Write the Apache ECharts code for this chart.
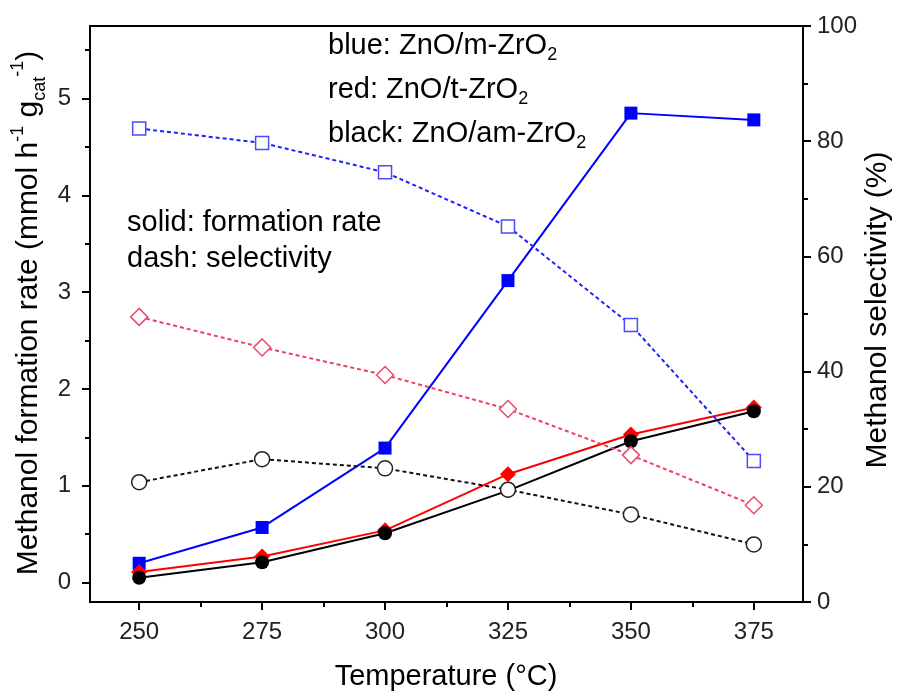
<!DOCTYPE html>
<html>
<head>
<meta charset="utf-8">
<script src="https://cdn.jsdelivr.net/npm/echarts@6/dist/echarts.min.js"></script>
<style>
  html, body { margin: 0; padding: 0; background: #fff; }
  #chart { width: 897px; height: 693px; }
</style>
</head>
<body>
<div id="chart"></div>
<script>
// Reaction temperature (°C)
const temperatures = [250, 275, 300, 325, 350, 375];

// Methanol formation rate (mmol h-1 gcat-1)
const rateMZrO2  = [0.20, 0.57, 1.39, 3.12, 4.85, 4.78];
const rateTZrO2  = [0.11, 0.27, 0.54, 1.12, 1.53, 1.81];
const rateAmZrO2 = [0.05, 0.21, 0.51, 0.95, 1.46, 1.77];

// Methanol selectivity (%)
const selMZrO2  = [82.2, 79.7, 74.6, 65.2, 48.1, 24.5];
const selTZrO2  = [49.5, 44.2, 39.4, 33.5, 25.5, 16.8];
const selAmZrO2 = [20.8, 24.8, 23.2, 19.5, 15.2, 10.0];

// Tick positions
const tempTicks = [250, 275, 300, 325, 350, 375];
const tempMinorTicks = [262.5, 287.5, 312.5, 337.5, 362.5];
const rateTicks = [0, 1, 2, 3, 4, 5];
const rateMinorTicks = [0.5, 1.5, 2.5, 3.5, 4.5, 5.5];

const FONT = '"Liberation Sans", Arial, Helvetica, sans-serif';
const pairs = (xs, ys) => xs.map((x, i) => [x, ys[i]]);

const chart = echarts.init(document.getElementById('chart'), null, { renderer: 'canvas' });

const axisLineStyle = { color: '#000', width: 2 };
const tickLabel = { color: '#222', fontSize: 24, fontFamily: FONT };

function solidSeries(name, data, color, symbol, size) {
  return {
    name, type: 'line', xAxisIndex: 0, yAxisIndex: 0,
    data: pairs(temperatures, data),
    symbol, symbolSize: size,
    lineStyle: { color, width: 2 },
    itemStyle: { color, borderWidth: 0 },
    z: 3
  };
}
function dashSeries(name, data, lineColor, markColor, symbol, size) {
  return {
    name, type: 'line', xAxisIndex: 0, yAxisIndex: 1,
    data: pairs(temperatures, data),
    symbol, symbolSize: size,
    lineStyle: { color: lineColor, width: 2, type: [4, 3] },
    itemStyle: { color: '#fff', borderColor: markColor, borderWidth: 1.5 },
    z: 4
  };
}

const option = {
  animation: false,
  backgroundColor: '#fff',
  textStyle: { fontFamily: FONT },
  grid: {
    left: 90, right: 94, top: 26, bottom: 91,
    show: true, borderColor: '#000', borderWidth: 2, backgroundColor: 'transparent'
  },
  xAxis: [
    {
      type: 'value', position: 'bottom', min: 240, max: 385,
      axisLine: { show: true, onZero: false, lineStyle: axisLineStyle },
      axisTick: { show: true, inside: false, length: 8, lineStyle: axisLineStyle, customValues: tempTicks },
      axisLabel: Object.assign({ margin: 18, customValues: tempTicks }, tickLabel),
      splitLine: { show: false }
    },
    {
      type: 'value', position: 'bottom', offset: 0, min: 240, max: 385,
      axisLine: { show: false, onZero: false },
      axisTick: { show: true, inside: false, length: 5, lineStyle: axisLineStyle, customValues: tempMinorTicks },
      axisLabel: { show: false },
      splitLine: { show: false }
    }
  ],
  yAxis: [
    {
      type: 'value', position: 'left', min: -0.2, max: 5.75,
      axisLine: { show: true, onZero: false, lineStyle: axisLineStyle },
      axisTick: { show: true, inside: false, length: 8, lineStyle: axisLineStyle, customValues: rateTicks },
      axisLabel: Object.assign({ margin: 19, customValues: rateTicks }, tickLabel),
      splitLine: { show: false }
    },
    {
      type: 'value', position: 'right', min: 0, max: 100, interval: 20,
      axisLine: { show: true, onZero: false, lineStyle: axisLineStyle },
      axisTick: { show: true, inside: false, length: 8, lineStyle: axisLineStyle },
      minorTick: { show: true, splitNumber: 2, length: 5, lineStyle: axisLineStyle },
      axisLabel: Object.assign({ margin: 14 }, tickLabel),
      splitLine: { show: false }
    },
    {
      type: 'value', position: 'left', offset: 0, min: -0.2, max: 5.75,
      axisLine: { show: false, onZero: false },
      axisTick: { show: true, inside: false, length: 5, lineStyle: axisLineStyle, customValues: rateMinorTicks },
      axisLabel: { show: false },
      splitLine: { show: false }
    }
  ],
  series: [
    solidSeries('ZnO/m-ZrO2 rate', rateMZrO2, '#0000ff', 'rect', 13),
    solidSeries('ZnO/t-ZrO2 rate', rateTZrO2, '#ff0000', 'diamond', 16),
    solidSeries('ZnO/am-ZrO2 rate', rateAmZrO2, '#000000', 'circle', 14),
    dashSeries('ZnO/m-ZrO2 selectivity', selMZrO2, '#2020ff', '#4a4aff', 'rect', 13),
    dashSeries('ZnO/t-ZrO2 selectivity', selTZrO2, '#f0405e', '#e84c68', 'diamond', 17),
    dashSeries('ZnO/am-ZrO2 selectivity', selAmZrO2, '#111111', '#222222', 'circle', 15)
  ],
  graphic: []
};

// Rich text styles for annotations and axis titles
const noteSize = 29;
const noteRich = {
  n: { fontSize: noteSize, fontFamily: FONT, color: '#111', lineHeight: 36 },
  s: { fontSize: 18, fontFamily: FONT, color: '#111', lineHeight: 18, verticalAlign: 'bottom' }
};
function titleRich(size) {
  return {
    n: { fontSize: size, fontFamily: FONT, color: '#111', lineHeight: size + 10 },
    sup: { fontSize: 18, fontFamily: FONT, color: '#111', lineHeight: 20, verticalAlign: 'top' },
    sub: { fontSize: 18, fontFamily: FONT, color: '#111', lineHeight: 18, verticalAlign: 'bottom' }
  };
}

function note(text, x, y) {
  return {
    type: 'text', x, y, z: 10,
    style: { text, rich: noteRich, align: 'left', verticalAlign: 'middle', textAlign: 'left', textVerticalAlign: 'middle' }
  };
}

option.graphic = [
  note('{n|blue: ZnO/m-ZrO}{s|2}', 328, 46),
  note('{n|red: ZnO/t-ZrO}{s|2}', 328, 90),
  note('{n|black: ZnO/am-ZrO}{s|2}', 328, 134),
  note('{n|solid: formation rate}', 127, 223),
  note('{n|dash: selectivity}', 127, 259),
  {
    type: 'text', x: 446, y: 677, z: 10,
    style: { text: '{n|Temperature (°C)}', rich: titleRich(29), align: 'center', verticalAlign: 'middle', textAlign: 'center', textVerticalAlign: 'middle' }
  },
  {
    type: 'text', x: 29, y: 313, rotation: Math.PI / 2, z: 10,
    style: {
      text: '{n|Methanol formation rate (mmol h}{sup|-1}{n| g}{sub|cat}{sup|-1}{n|)}',
      rich: titleRich(30), align: 'center', verticalAlign: 'middle', textAlign: 'center', textVerticalAlign: 'middle'
    }
  },
  {
    type: 'text', x: 878, y: 310, rotation: Math.PI / 2, z: 10,
    style: { text: '{n|Methanol selectivity (%)}', rich: titleRich(30), align: 'center', verticalAlign: 'middle', textAlign: 'center', textVerticalAlign: 'middle' }
  }
];

chart.setOption(option);
</script>
</body>
</html>
